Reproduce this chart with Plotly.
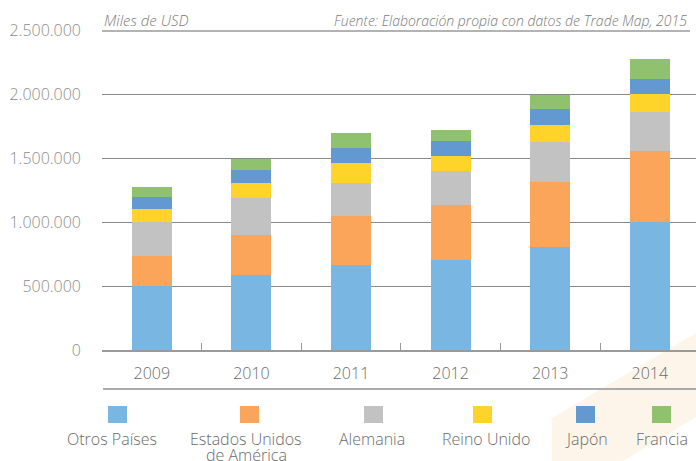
import plotly.graph_objects as go

# ---- data ----
years = ["2009", "2010", "2011", "2012", "2013", "2014"]
otros_paises = [500000, 586000, 664000, 703000, 805000, 1000000]
estados_unidos = [234000, 312000, 383000, 430000, 507000, 555000]
alemania = [266000, 289000, 258000, 265000, 313000, 304000]
reino_unido = [102000, 117000, 156000, 118000, 133000, 141000]
japon = [94000, 102000, 117000, 117000, 125000, 117000]
francia = [78000, 86000, 117000, 86000, 109000, 156000]

series_names = ["Otros Países", "Estados Unidos<br>de América", "Alemania",
                "Reino Unido", "Japón", "Francia"]
series_values = [otros_paises, estados_unidos, alemania, reino_unido, japon, francia]
colors = ["#7ab6e2", "#fba55a", "#c2c2c2", "#ffd42a", "#6399d1", "#8fc16f"]

y_ticks = [0, 500000, 1000000, 1500000, 2000000, 2500000]

# ---- layout geometry (pixels) ----
W, H = 696, 461
L, R, T, B = 102, 0, 30, 111
PW, PH = W - L - R, H - T - B

def px(x):
    return (x - L) / PW

def py(y):
    return (H - B - y) / PH

FONT = "Open Sans"

fig = go.Figure()
for name, vals, col in zip(series_names, series_values, colors):
    fig.add_trace(go.Bar(x=years, y=vals, name=name, marker=dict(color=col, line=dict(width=0)),
                         showlegend=False))

fig.update_layout(
    width=W, height=H,
    margin=dict(l=L, r=R, t=T, b=B, autoexpand=False),
    barmode="stack", bargap=0.6,
    paper_bgcolor="white", plot_bgcolor="rgba(0,0,0,0)",
    separators=",.",
    font=dict(family=FONT, size=16, color="#6b6b6b", weight=300),
    showlegend=False,
)

fig.update_xaxes(
    type="category",
    range=[-0.5, -0.5 + PW / 99.6],
    showline=True, linecolor="#9a9a9a", linewidth=1.5,
    ticks="inside", tickson="boundaries", ticklen=7, tickcolor="#9a9a9a", tickwidth=1,
    showgrid=False,
    tickfont=dict(family=FONT, size=16, color="#6b6b6b", weight=300),
    ticklabelstandoff=8,
)
fig.update_yaxes(
    range=[0, 2500000],
    tickvals=y_ticks, tickformat=",d",
    showgrid=True, gridcolor="#8a8a8a", gridwidth=1,
    zeroline=False, showline=False, ticks="",
    tickfont=dict(family=FONT, size=16, color="#8c8c8c", weight=300),
    ticklabelstandoff=20,
)

shapes = []
# beige decorative background band
pts = [(552, 418), (696, 333), (696, 417), (623, 461), (552, 461)]
path = "M " + " L ".join(f"{px(a):.5f},{py(b):.5f}" for a, b in pts) + " Z"
shapes.append(dict(type="path", xref="paper", yref="paper", path=path,
                   fillcolor="#fdf5ea", line=dict(width=0), layer="below"))
# line under category labels
shapes.append(dict(type="line", xref="paper", yref="paper", x0=px(103), x1=px(700),
                   y0=py(389), y1=py(389), line=dict(color="#ababab", width=2)))
# top line under header
shapes.append(dict(type="line", xref="paper", yref="paper", x0=px(102), x1=px(690),
                   y0=py(31), y1=py(31), line=dict(color="#9a9a9a", width=1.5)))

# custom legend: square above label
sq_centers = [117.5, 249.5, 373.5, 482.5, 585.5, 661.5]
lbl_centers = [112, 246, 372, 486, 586, 662]
annotations = []
for name, col, sc, lc in zip(series_names, colors, sq_centers, lbl_centers):
    shapes.append(dict(type="rect", xref="paper", yref="paper",
                       x0=px(sc - 9.5), x1=px(sc + 9.5), y0=py(423), y1=py(406),
                       fillcolor=col, line=dict(width=0)))
    for i, line in enumerate(name.split("<br>")):
        annotations.append(dict(xref="paper", yref="paper", x=px(lc), y=py(439 + 16 * i),
                                xanchor="center", yanchor="middle", text=line, showarrow=False,
                                font=dict(family=FONT, size=16, color="#6b6b6b", weight=300),
                                align="center"))

annotations.append(dict(xref="paper", yref="paper", x=px(102), y=py(20), xanchor="left",
                        yanchor="middle", text="<i>Miles de USD</i>", showarrow=False,
                        font=dict(family=FONT, size=15, color="#7a7a7a", weight=300)))
annotations.append(dict(xref="paper", yref="paper", x=px(689), y=py(20), xanchor="right",
                        yanchor="middle",
                        text="<i>Fuente: Elaboración propia con datos de Trade Map, 2015</i>",
                        showarrow=False,
                        font=dict(family=FONT, size=14, color="#7a7a7a", weight=300)))

fig.update_layout(shapes=shapes, annotations=annotations)
fig.write_html("out.html", config={"displayModeBar": False},
               post_script="document.body.style.margin='0';")
